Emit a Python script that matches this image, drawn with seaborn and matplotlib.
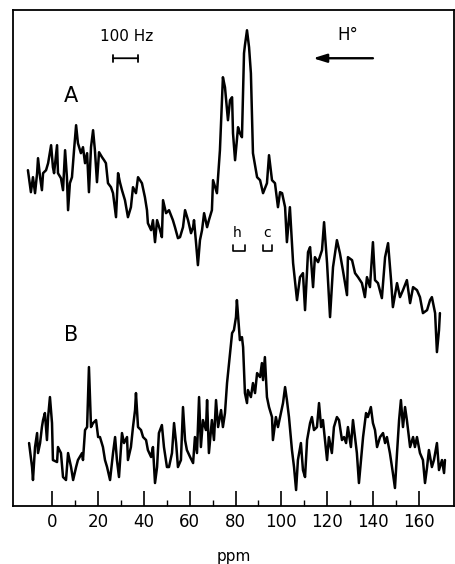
import numpy as np
import matplotlib
matplotlib.use("Agg")
import matplotlib.pyplot as plt
import seaborn as sns

# Spectrum A (upper trace): chemical shift (ppm) and intensity (arb. units)
ppm_a = [-10.5, -9.2, -8.3, -7.4, -6.5, -6.1, -5.2, -4.4, -3.9, -2.6,
         -1.7, -0.4, 0.4, 0.9, 2.2, 2.6, 3.9, 4.8, 5.7, 6.5,
         7.0, 7.8, 8.7, 9.6, 10.5, 11.3, 12.6, 13.5, 14.4, 15.3,
         16.1, 17.0, 17.9, 18.7, 19.6, 20.5, 21.8, 22.7, 23.5, 24.4,
         25.7, 26.6, 27.9, 28.8, 29.6, 30.5, 31.8, 33.1, 34.4, 35.3,
         36.6, 37.5, 39.2, 40.5, 41.4, 41.8, 43.2, 44.0, 44.9, 45.8,
         47.1, 47.9, 48.4, 49.7, 51.0, 52.7, 53.6, 54.9, 55.8, 57.1,
         58.0, 59.3, 60.6, 61.5, 61.9, 62.8, 63.6, 64.5, 65.4, 66.3,
         67.6, 68.4, 69.7, 70.2, 71.1, 71.9, 73.2, 74.1, 74.5, 75.4,
         76.7, 77.6, 78.5, 78.9, 79.8, 81.1, 81.9, 82.8, 83.7, 84.1,
         85.0, 85.9, 86.7, 87.6, 88.5, 89.4, 90.7, 92.0, 93.7, 94.6,
         95.9, 97.2, 98.5, 99.4, 100.3, 101.6, 102.4, 103.7, 104.6, 105.1,
         106.8, 108.1, 109.4, 110.3, 111.6, 112.5, 113.8, 114.6, 116.0, 117.7,
         118.6, 119.9, 121.2, 122.5, 124.2, 125.5, 126.8, 128.6, 129.0, 130.8,
         132.1, 133.4, 135.1, 136.4, 137.3, 138.6, 139.9, 140.8, 142.1, 143.8,
         145.2, 146.5, 147.8, 148.6, 150.4, 151.7, 153.0, 154.7, 156.1, 157.4,
         159.1, 160.4, 161.7, 163.5, 164.8, 165.6, 167.0, 167.8, 168.7, 169.1]
int_a = [336, 314, 329, 313, 333, 348, 329, 316, 333, 336,
         343, 361, 339, 333, 361, 333, 328, 316, 356, 329,
         296, 323, 329, 356, 381, 363, 353, 359, 343, 353,
         314, 359, 376, 356, 324, 354, 349, 346, 343, 323,
         319, 313, 289, 333, 324, 316, 306, 289, 299, 319,
         313, 329, 323, 309, 296, 283, 276, 286, 264, 286,
         276, 269, 306, 293, 296, 286, 279, 268, 269, 279,
         296, 286, 273, 279, 286, 263, 241, 266, 276, 293,
         279, 286, 296, 326, 319, 313, 356, 406, 429, 419,
         386, 406, 409, 373, 346, 379, 373, 369, 453, 461,
         476, 459, 433, 353, 341, 329, 326, 313, 323, 351,
         326, 323, 299, 314, 313, 299, 264, 299, 263, 243,
         206, 229, 233, 196, 254, 259, 219, 249, 244, 256,
         284, 243, 189, 239, 266, 253, 236, 211, 249, 246,
         233, 229, 223, 209, 229, 219, 264, 226, 223, 208,
         249, 263, 226, 199, 223, 209, 216, 226, 203, 219,
         216, 209, 193, 196, 206, 209, 193, 154, 176, 193]

# Spectrum B (lower trace)
ppm_b = [-10.0, -8.7, -8.3, -7.4, -6.5, -6.1, -5.2, -4.4, -3.9, -3.1,
         -2.2, -1.7, -0.9, 0.0, 0.4, 2.2, 2.6, 3.9, 4.8, 6.1,
         7.0, 8.3, 9.2, 10.5, 11.3, 13.1, 13.5, 14.4, 15.3, 16.1,
         17.0, 17.9, 19.2, 20.1, 20.9, 22.2, 23.1, 24.0, 25.3, 26.6,
         27.5, 28.3, 29.2, 30.5, 31.4, 32.7, 33.1, 34.4, 35.3, 36.2,
         36.6, 37.5, 38.8, 39.7, 41.0, 41.8, 43.2, 44.0, 44.9, 45.8,
         46.6, 47.9, 48.8, 50.1, 51.0, 52.3, 53.2, 54.1, 54.9, 56.2,
         57.1, 58.0, 58.8, 60.2, 61.5, 62.3, 63.2, 64.1, 64.9, 65.8,
         67.1, 67.6, 68.4, 69.7, 70.6, 71.5, 72.4, 73.7, 74.5, 75.4,
         76.3, 77.6, 78.5, 79.3, 80.2, 80.6, 81.5, 81.9, 82.8, 83.3,
         84.1, 85.0, 85.4, 86.7, 87.6, 88.5, 89.4, 90.7, 91.5, 92.0,
         92.8, 93.7, 94.6, 95.9, 96.3, 97.6, 98.5, 99.8, 100.7, 101.6,
         102.4, 103.3, 104.6, 105.5, 106.4, 107.2, 108.5, 109.4, 110.3, 111.2,
         112.5, 113.3, 114.2, 115.5, 116.4, 117.3, 118.1, 119.0, 119.9, 120.7,
         122.0, 122.9, 124.2, 125.1, 126.4, 127.3, 128.2, 129.0, 130.3, 131.2,
         132.1, 132.9, 133.8, 134.7, 135.6, 136.9, 137.7, 139.0, 139.9, 140.8,
         141.7, 143.0, 144.3, 145.2, 146.0, 147.3, 148.6, 149.5, 150.4, 151.3,
         152.1, 153.0, 153.9, 154.7, 156.1, 157.4, 158.2, 159.1, 160.4, 161.7,
         162.6, 163.5, 164.3, 165.6, 166.5, 167.8, 168.7, 170.0, 170.9, 171.3]
int_b = [63, 39, 26, 59, 73, 53, 63, 79, 86, 93,
         66, 89, 109, 83, 46, 44, 59, 53, 29, 26,
         53, 39, 26, 39, 46, 53, 46, 76, 79, 139,
         79, 83, 86, 69, 69, 59, 46, 39, 26, 53,
         69, 46, 29, 73, 63, 69, 46, 59, 79, 96,
         113, 79, 76, 69, 66, 56, 49, 59, 23, 39,
         73, 81, 59, 39, 39, 53, 83, 63, 39, 46,
         99, 66, 56, 49, 43, 69, 53, 109, 59, 86,
         76, 106, 53, 86, 66, 106, 79, 96, 79, 93,
         123, 153, 173, 176, 189, 206, 179, 166, 169, 159,
         113, 103, 116, 109, 123, 113, 133, 129, 143, 126,
         149, 109, 99, 89, 66, 89, 79, 93, 103, 119,
         106, 89, 56, 39, 16, 46, 63, 36, 29, 66,
         83, 89, 76, 79, 103, 79, 86, 66, 46, 69,
         53, 79, 89, 86, 66, 69, 63, 79, 59, 86,
         69, 53, 23, 46, 69, 93, 89, 99, 83, 76,
         59, 69, 73, 63, 69, 53, 33, 18, 53, 86,
         106, 79, 99, 86, 59, 69, 59, 69, 53, 46,
         23, 39, 56, 39, 46, 63, 36, 46, 33, 46]

major_ticks = [0, 20, 40, 60, 80, 100, 120, 140, 160]
minor_ticks = [10, 30, 50, 70, 90, 110, 130, 150]

sns.set_style("white")
plt.rcParams['font.family'] = ['DejaVu Sans']
plt.rcParams['text.color'] = 'black'
plt.rcParams['xtick.color'] = 'black'
plt.rcParams['axes.labelcolor'] = 'black'

fig = plt.figure(figsize=(4.55, 5.64), dpi=100)
ax = fig.add_axes([0.0286, 0.1028, 0.969, 0.879])

sns.lineplot(x=ppm_a, y=int_a, color='black', lw=1.8, estimator=None, ax=ax)
sns.lineplot(x=ppm_b, y=int_b, color='black', lw=1.8, estimator=None, ax=ax)

ax.set_xlim(-17, 175.2)
ax.set_ylim(0, 496)
ax.set_yticks([])
ax.set_xticks(major_ticks)
ax.set_xticks(minor_ticks, minor=True)
ax.set_xticklabels([str(t) for t in major_ticks], fontsize=12)
ax.tick_params(axis='x', which='major', direction='in', length=11, width=1.2, pad=5, bottom=True)
ax.tick_params(axis='x', which='minor', direction='in', length=4.5, width=1.0, bottom=True)
for s in ax.spines.values():
    s.set_color('black')
    s.set_linewidth(1.3)

ax.set_xlabel('ppm', fontsize=11, labelpad=13)

# trace labels
ax.text(8.3, 410, 'A', fontsize=15, ha='center', va='center')
ax.text(8.3, 171, 'B', fontsize=15, ha='center', va='center')

# 100 Hz scale bar
ax.text(32.5, 470, '100 Hz', fontsize=11, ha='center', va='center')
ax.annotate('', xy=(26.6, 448), xytext=(37.5, 448),
            arrowprops=dict(arrowstyle='|-|, widthA=0.25, widthB=0.25', lw=1.3, color='black',
                            shrinkA=0, shrinkB=0))

# field direction arrow
ax.text(129, 471, 'H°', fontsize=12, ha='center', va='center')
ax.annotate('', xy=(113.8, 448), xytext=(139.9, 448),
            arrowprops=dict(arrowstyle='-|>, head_length=0.8, head_width=0.25', lw=1.7,
                            color='black', shrinkA=0, shrinkB=0))

# h and c brackets
ax.text(80.6, 273, 'h', fontsize=10, ha='center', va='center')
ax.text(93.7, 273, 'c', fontsize=10, ha='center', va='center')
ax.plot([78.9, 78.9, 84.1, 84.1], [261, 255, 255, 261], color='black', lw=1.2)
ax.plot([92.0, 92.0, 95.9, 95.9], [261, 255, 255, 261], color='black', lw=1.2)

fig.savefig('out.png', dpi=100)
